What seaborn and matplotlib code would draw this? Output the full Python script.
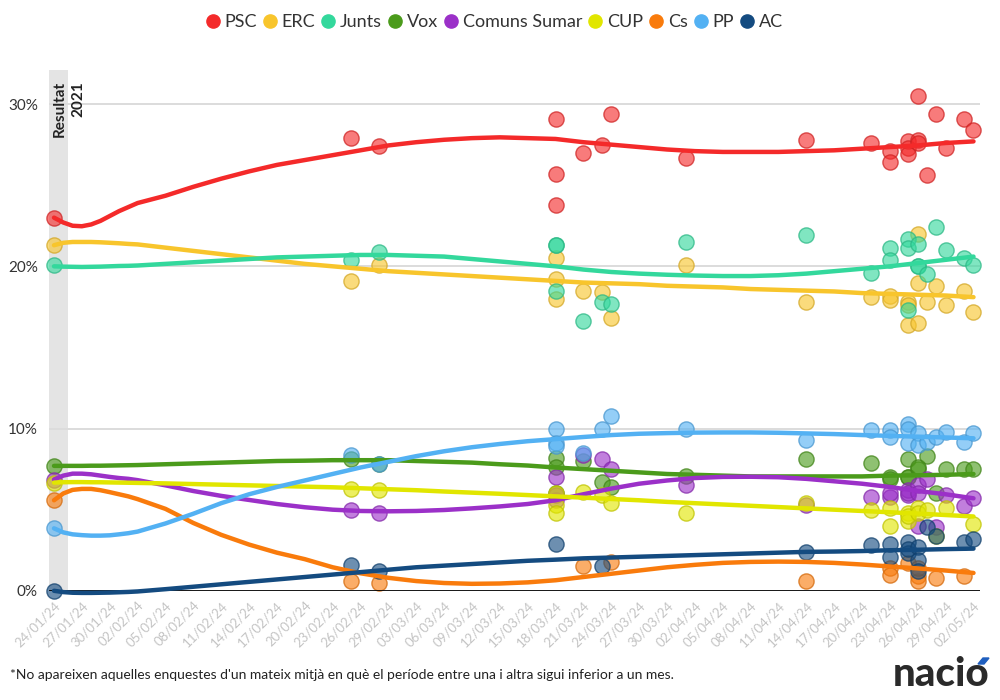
import numpy as np
import pandas as pd
import matplotlib
matplotlib.use("Agg")
import matplotlib.pyplot as plt
from matplotlib.lines import Line2D
from matplotlib.patches import Polygon
import seaborn as sns

# ---------------- data ----------------
parties = ["PSC", "ERC", "Junts", "Vox", "Comuns Sumar", "CUP", "Cs", "PP", "AC"]
colors = ["#f42a2a", "#f8c52c", "#33d89c", "#4b9b1b", "#9b30c8",
          "#e1e600", "#f97b0c", "#53b1f3", "#144b80"]

# individual polls (first entry = Resultat 2021)
poll_dates = ["2024-01-24", "2024-02-25", "2024-02-28",
              "2024-03-18", "2024-03-18", "2024-03-18",
              "2024-03-21", "2024-03-23", "2024-03-24", "2024-04-01",
              "2024-04-14", "2024-04-21", "2024-04-23", "2024-04-23",
              "2024-04-25", "2024-04-25", "2024-04-25",
              "2024-04-26", "2024-04-26", "2024-04-26",
              "2024-04-27", "2024-04-28", "2024-04-29", "2024-05-01", "2024-05-02"]
nan = None
psc = [23.0, 27.9, 27.4, 29.1, 25.7, 23.8, 27.0, 27.5, 29.4, 26.7, 27.8, 27.6, 27.1, 26.4,
       27.7, 27.3, 26.9, 30.5, 27.8, 27.6, 25.6, 29.4, 27.3, 29.1, 28.4]
erc = [21.3, 19.1, 20.1, 20.5, 19.2, 18.0, 18.5, 18.4, 16.8, 20.1, 17.8, 18.1, 18.2, 17.9,
       17.8, 16.4, 17.6, 22.0, 19.0, 16.5, 17.8, 18.8, 17.6, 18.5, 17.2]
junts = [20.1, 20.4, 20.9, 21.3, 21.3, 18.5, 16.6, 17.8, 17.7, 21.5, 21.9, 19.6, 21.1, 20.4,
         21.7, 21.1, 17.3, 21.4, 20.0, 20.0, 19.5, 22.4, 21.0, 20.5, 20.1]
vox = [7.7, 8.1, 7.8, 8.2, 7.6, 6.0, 8.0, 6.7, 6.4, 7.1, 8.1, 7.9, 7.0, 6.9,
       8.1, 7.0, 7.0, 7.5, 7.6, nan, 8.3, 6.0, 7.5, 7.5, 7.5]
comuns = [6.86, 5.0, 4.8, 7.0, 5.6, 5.9, 8.4, 8.1, 7.5, 6.5, 5.3, 5.8, 5.8, 6.0,
          5.9, 6.2, 6.0, 6.5, 6.0, 4.0, 6.9, 3.96, 5.9, 5.2, 5.7]
cup = [6.67, 6.3, 6.2, 6.0, 5.3, 4.8, 6.1, 5.9, 5.4, 4.8, 5.4, 5.0, 5.1, 4.0,
       4.8, 4.3, 4.6, 5.1, 4.8, nan, 5.0, 3.35, 5.1, nan, 4.1]
cs = [5.58, 0.6, 0.5, nan, nan, nan, 1.5, nan, 1.75, nan, 0.6, nan, 1.4, 1.0,
      1.7, nan, nan, 0.9, 0.6, 1.4, nan, 0.8, nan, 0.9, nan]
pp = [3.85, 8.4, 7.8, 10.0, 9.1, 8.9, 8.5, 10.0, 10.8, 10.0, 9.3, 9.9, 9.9, 9.5,
      10.3, 10.0, 9.1, 9.7, 9.0, nan, 9.2, 9.5, 9.8, 9.2, 9.75]
ac = [0.0, 1.6, 1.2, 2.9, nan, nan, nan, 1.5, nan, nan, 2.4, 2.8, 2.9, 2.1,
      3.0, 2.3, 2.6, 2.7, 1.9, 1.2, 3.96, 3.4, nan, 3.0, 3.2]

# x tick labels
tick_labels = ["24/01/24", "27/01/24", "30/01/24", "02/02/24", "05/02/24", "08/02/24",
               "11/02/24", "14/02/24", "17/02/24", "20/02/24", "23/02/24", "26/02/24",
               "29/02/24", "03/03/24", "06/03/24", "09/03/24", "12/03/24", "15/03/24",
               "18/03/24", "21/03/24", "24/03/24", "27/03/24", "30/03/24", "02/04/24",
               "05/04/24", "08/04/24", "11/04/24", "14/04/24", "17/04/24", "20/04/24",
               "23/04/24", "26/04/24", "29/04/24", "02/05/24"]

# trend (smoothed average) values at these dates
trend_dates = ["2024-01-24", "2024-01-25", "2024-01-26", "2024-01-27", "2024-01-28",
               "2024-01-29", "2024-01-30", "2024-01-31", "2024-02-01", "2024-02-02",
               "2024-02-05", "2024-02-08", "2024-02-11", "2024-02-14", "2024-02-17",
               "2024-02-20", "2024-02-23", "2024-02-26", "2024-02-29", "2024-03-03",
               "2024-03-06", "2024-03-09", "2024-03-12", "2024-03-15", "2024-03-18",
               "2024-03-21", "2024-03-24", "2024-03-27", "2024-03-30", "2024-04-02",
               "2024-04-05", "2024-04-08", "2024-04-11", "2024-04-14", "2024-04-17",
               "2024-04-20", "2024-04-23", "2024-04-26", "2024-04-29", "2024-05-02"]
trend_psc = [23.0, 22.7, 22.5, 22.47, 22.58, 22.8, 23.1, 23.4, 23.65, 23.9,
             24.35, 24.9, 25.4, 25.85, 26.25, 26.55, 26.85, 27.15, 27.45, 27.65,
             27.8, 27.9, 27.95, 27.9, 27.85, 27.65, 27.5, 27.35, 27.2, 27.1,
             27.05, 27.05, 27.05, 27.1, 27.15, 27.25, 27.35, 27.45, 27.6, 27.7]
trend_erc = [21.3, 21.45, 21.5, 21.5, 21.5, 21.48, 21.45, 21.42, 21.38, 21.35,
             21.15, 20.95, 20.75, 20.55, 20.35, 20.15, 20.0, 19.85, 19.7, 19.6,
             19.5, 19.4, 19.3, 19.2, 19.1, 19.0, 18.95, 18.9, 18.8, 18.75,
             18.7, 18.6, 18.55, 18.5, 18.45, 18.35, 18.3, 18.25, 18.2, 18.1]
trend_junts = [20.0, 19.98, 19.97, 19.96, 19.97, 19.98, 20.0, 20.02, 20.03, 20.05,
               20.15, 20.25, 20.35, 20.45, 20.55, 20.6, 20.65, 20.7, 20.7, 20.65,
               20.6, 20.45, 20.3, 20.15, 20.0, 19.8, 19.65, 19.55, 19.48, 19.43,
               19.4, 19.4, 19.45, 19.55, 19.7, 19.85, 20.0, 20.2, 20.4, 20.6]
trend_vox = [7.7, 7.7, 7.7, 7.7, 7.71, 7.71, 7.72, 7.73, 7.74, 7.75,
             7.8, 7.85, 7.9, 7.95, 8.0, 8.02, 8.05, 8.05, 8.05, 8.0,
             7.95, 7.9, 7.8, 7.72, 7.6, 7.5, 7.4, 7.3, 7.2, 7.15,
             7.1, 7.05, 7.05, 7.05, 7.05, 7.05, 7.1, 7.12, 7.15, 7.2]
trend_comuns = [6.86, 7.1, 7.22, 7.22, 7.18, 7.1, 7.02, 6.95, 6.9, 6.82,
                6.5, 6.15, 5.85, 5.6, 5.35, 5.15, 5.0, 4.92, 4.9, 4.92,
                4.98, 5.08, 5.2, 5.35, 5.58, 5.95, 6.3, 6.6, 6.8, 6.95,
                7.02, 7.03, 7.0, 6.9, 6.75, 6.6, 6.4, 6.15, 5.95, 5.7]
trend_cup = [6.67, 6.69, 6.7, 6.7, 6.69, 6.69, 6.68, 6.67, 6.66, 6.65,
             6.62, 6.58, 6.54, 6.5, 6.46, 6.42, 6.38, 6.32, 6.26, 6.2,
             6.12, 6.05, 5.98, 5.9, 5.82, 5.74, 5.66, 5.58, 5.48, 5.4,
             5.32, 5.24, 5.16, 5.08, 5.0, 4.92, 4.84, 4.76, 4.67, 4.58]
trend_cs = [5.58, 6.0, 6.22, 6.28, 6.28, 6.2, 6.08, 5.95, 5.82, 5.65,
            5.05, 4.18, 3.45, 2.85, 2.35, 1.95, 1.45, 1.08, 0.8, 0.6,
            0.48, 0.43, 0.45, 0.52, 0.65, 0.85, 1.05, 1.25, 1.45, 1.6,
            1.72, 1.78, 1.8, 1.78, 1.72, 1.62, 1.5, 1.38, 1.25, 1.1]
trend_pp = [3.85, 3.6, 3.48, 3.43, 3.4, 3.4, 3.42, 3.48, 3.55, 3.65,
            4.15, 4.75, 5.4, 5.95, 6.4, 6.8, 7.2, 7.6, 7.95, 8.3,
            8.6, 8.85, 9.05, 9.22, 9.35, 9.48, 9.6, 9.68, 9.72, 9.75,
            9.76, 9.76, 9.74, 9.7, 9.66, 9.6, 9.55, 9.5, 9.45, 9.4]
trend_ac = [0.0, -0.08, -0.12, -0.13, -0.13, -0.12, -0.11, -0.09, -0.07, -0.04,
            0.1, 0.25, 0.4, 0.55, 0.7, 0.85, 1.0, 1.15, 1.3, 1.45,
            1.55, 1.65, 1.75, 1.85, 1.92, 2.0, 2.05, 2.1, 2.15, 2.2,
            2.25, 2.3, 2.35, 2.4, 2.42, 2.45, 2.5, 2.53, 2.57, 2.6]

y_ticks = [0, 10, 20, 30]
y_tick_labels = ["0%", "10%", "20%", "30%"]
band_label = "Resultat\n2021"
footnote = ("*No apareixen aquelles enquestes d'un mateix mitjà en què el període "
            "entre una i altra sigui inferior a un mes.")
logo = "nacio"

# ---------------- frames ----------------
poll_vals = [psc, erc, junts, vox, comuns, cup, cs, pp, ac]
trend_vals = [trend_psc, trend_erc, trend_junts, trend_vox, trend_comuns,
              trend_cup, trend_cs, trend_pp, trend_ac]
tick_dates = pd.to_datetime(tick_labels, format="%d/%m/%y")

pts = pd.concat([pd.DataFrame({"date": pd.to_datetime(poll_dates), "party": p,
                               "value": pd.to_numeric(pd.Series(v, dtype=object), errors="coerce")})
                 for p, v in zip(parties, poll_vals)]).dropna()
trends = pd.concat([pd.DataFrame({"date": pd.to_datetime(trend_dates), "party": p, "value": v})
                    for p, v in zip(parties, trend_vals)])

# ---------------- plot ----------------
sns.set_style("white")
plt.rcParams["font.family"] = ["Lato", "DejaVu Sans"]

fig = plt.figure(figsize=(10, 7), dpi=100)
ax = fig.add_axes([0.049, 0.156, 0.931, 0.744])

start = tick_dates[0]
day = pd.Timedelta(days=1)
ax.axvspan(start - 0.54 * day, start + 1.47 * day, color="#e4e4e4", zorder=0, lw=0)

for yv in y_ticks[1:]:
    ax.axhline(yv, color="#dcdcdc", lw=1.4, zorder=0.5)

palette = dict(zip(parties, colors))
for p in parties:
    sub = pts[pts.party == p]
    c = matplotlib.colors.to_rgba(palette[p])
    sns.scatterplot(data=sub, x="date", y="value", ax=ax, s=120,
                    color=(c[0], c[1], c[2], 0.62),
                    edgecolor=(c[0] * 0.85, c[1] * 0.85, c[2] * 0.85, 0.75),
                    linewidth=1.0, zorder=2, clip_on=False, legend=False)

ax.axhline(0, color="black", lw=2, zorder=2.5)

for p in parties:
    sub = trends[trends.party == p]
    sns.lineplot(data=sub, x="date", y="value", ax=ax, color=palette[p],
                 lw=3.2, zorder=3, legend=False, solid_capstyle="round",
                 solid_joinstyle="round", clip_on=False)

ax.set_xlim(start - 0.54 * day, tick_dates[-1] + 0.7 * day)
ax.set_ylim(0, 32.1)
ax.set_xticks(tick_dates)
ax.set_xticklabels(tick_labels, rotation=45, ha="right", rotation_mode="anchor",
                   color="#c4c4c4", fontsize=9.5)
ax.tick_params(axis="x", length=0, pad=6)
ax.set_yticks(y_ticks)
ax.set_yticklabels(y_tick_labels, color="#333333", fontsize=11)
ax.tick_params(axis="y", length=0, pad=8)
ax.set_xlabel("")
ax.set_ylabel("")
for s in ax.spines.values():
    s.set_visible(False)

ax.text(start - 0.1 * day, 31.4, band_label, rotation=90, ha="left", va="top",
        multialignment="right", fontsize=11, fontweight="bold", color="#222222",
        linespacing=1.35, zorder=4)

handles = [Line2D([], [], marker="o", ls="", markersize=9.5, markerfacecolor=c,
                  markeredgecolor=c) for c in colors]
fig.legend(handles, parties, loc="center", bbox_to_anchor=(0.494, 0.968), ncol=9,
           frameon=False, handletextpad=0.25, columnspacing=0.32, fontsize=13,
           labelcolor="#333333", handlelength=0.8)

fig.text(0.01, 0.036, footnote, fontsize=10, color="#222222", va="center")
fig.text(0.989, 0.037, logo, fontsize=29, fontweight=900, color="#2a2a2a",
         ha="right", va="center")
W, H = 1000.0, 700.0
acc = [(978, 664), (984, 664), (989, 658), (983, 658)]
fig.patches.append(Polygon([(x / W, 1 - y / H) for x, y in acc], closed=True,
                           transform=fig.transFigure, color="#1f5fbf", zorder=5))

fig.savefig("out.png", dpi=100)
